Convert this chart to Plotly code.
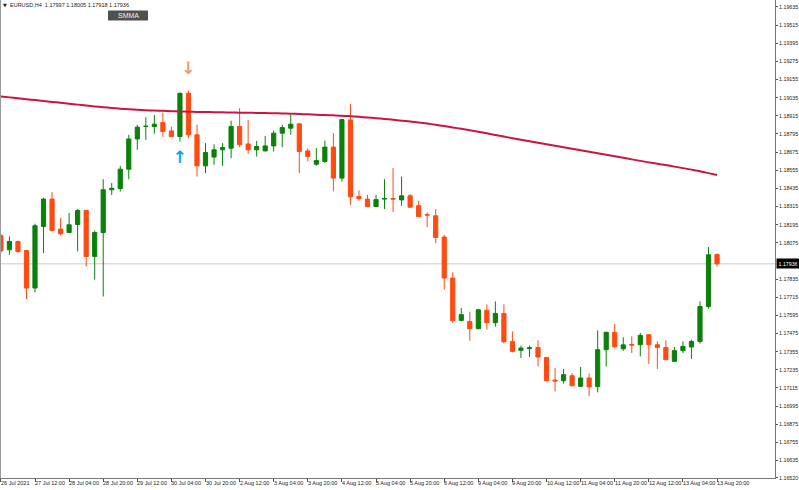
import plotly.graph_objects as go

# ---------------- data ----------------
bar_index = list(range(85))

opens = [1.18122, 1.18029, 1.18084, 1.18024, 1.17776, 1.18183, 1.18364, 1.18166, 1.18143, 1.18196,
         1.18289, 1.17985, 1.18143, 1.18426, 1.18434, 1.18562, 1.18762, 1.18844, 1.18844, 1.18870,
         1.18815, 1.18778, 1.19064, 1.18789, 1.18584, 1.18642, 1.18690, 1.18701, 1.18844, 1.18729,
         1.18690, 1.18683, 1.18716, 1.18800, 1.18833, 1.18862, 1.18683, 1.18595, 1.18613, 1.18708,
         1.18503, 1.18888, 1.18381, 1.18364, 1.18315, 1.18364, 1.18368, 1.18359, 1.18386, 1.18320,
         1.18261, 1.18254, 1.18113, 1.17842, 1.17562, 1.17555, 1.17507, 1.17629, 1.17547, 1.17608,
         1.17421, 1.17364, 1.17375, 1.17383, 1.17317, 1.17167, 1.17163, 1.17196, 1.17126, 1.17181,
         1.17124, 1.17368, 1.17483, 1.17374, 1.17403, 1.17401, 1.17467, 1.17401, 1.17383, 1.17291,
         1.17362, 1.17386, 1.17423, 1.17654, 1.17997]
highs = [1.18135, 1.18117, 1.18090, 1.18029, 1.18201, 1.18373, 1.18410, 1.18238, 1.18272, 1.18298,
         1.18293, 1.18157, 1.18496, 1.18470, 1.18584, 1.18789, 1.18855, 1.18906, 1.18921, 1.18936,
         1.18844, 1.19068, 1.19082, 1.18855, 1.18734, 1.18727, 1.18734, 1.18883, 1.18965, 1.18888,
         1.18749, 1.18782, 1.18817, 1.18855, 1.18921, 1.18866, 1.18701, 1.18701, 1.18751, 1.18800,
         1.18895, 1.18994, 1.18422, 1.18392, 1.18392, 1.18496, 1.18569, 1.18513, 1.18397, 1.18353,
         1.18276, 1.18298, 1.18128, 1.17879, 1.17644, 1.17619, 1.17639, 1.17668, 1.17687, 1.17668,
         1.17489, 1.17395, 1.17395, 1.17430, 1.17318, 1.17247, 1.17241, 1.17214, 1.17254, 1.17210,
         1.17496, 1.17487, 1.17539, 1.17450, 1.17456, 1.17479, 1.17470, 1.17423, 1.17430, 1.17386,
         1.17423, 1.17434, 1.17687, 1.18047, 1.18005]
lows = [1.18009, 1.17996, 1.18007, 1.17703, 1.17747, 1.18007, 1.18150, 1.18122, 1.18141, 1.18018,
        1.17919, 1.17831, 1.17720, 1.18392, 1.18414, 1.18496, 1.18690, 1.18756, 1.18796, 1.18774,
        1.18774, 1.18745, 1.18767, 1.18513, 1.18536, 1.18591, 1.18584, 1.18635, 1.18708, 1.18663,
        1.18646, 1.18679, 1.18679, 1.18708, 1.18789, 1.18536, 1.18613, 1.18584, 1.18604, 1.18416,
        1.18480, 1.18326, 1.18354, 1.18311, 1.18311, 1.18298, 1.18278, 1.18320, 1.18305, 1.18247,
        1.18179, 1.18073, 1.17765, 1.17547, 1.17555, 1.17428, 1.17504, 1.17500, 1.17520, 1.17410,
        1.17350, 1.17313, 1.17320, 1.17258, 1.17159, 1.17093, 1.17144, 1.17126, 1.17122, 1.17060,
        1.17086, 1.17258, 1.17377, 1.17360, 1.17346, 1.17324, 1.17274, 1.17241, 1.17298, 1.17287,
        1.17346, 1.17307, 1.17408, 1.17639, 1.17918]
closes = [1.18022, 1.18084, 1.18018, 1.17776, 1.18188, 1.18364, 1.18157, 1.18135, 1.18194, 1.18289,
          1.17985, 1.18143, 1.18426, 1.18435, 1.18562, 1.18762, 1.18840, 1.18846, 1.18860, 1.18811,
          1.18778, 1.19064, 1.18789, 1.18584, 1.18672, 1.18690, 1.18705, 1.18844, 1.18723, 1.18690,
          1.18712, 1.18716, 1.18800, 1.18837, 1.18860, 1.18679, 1.18646, 1.18619, 1.18708, 1.18503,
          1.18890, 1.18379, 1.18367, 1.18315, 1.18361, 1.18368, 1.18364, 1.18386, 1.18311, 1.18249,
          1.18259, 1.18110, 1.17842, 1.17560, 1.17600, 1.17507, 1.17632, 1.17547, 1.17608, 1.17421,
          1.17357, 1.17379, 1.17381, 1.17320, 1.17163, 1.17161, 1.17203, 1.17130, 1.17181, 1.17122,
          1.17368, 1.17483, 1.17388, 1.17400, 1.17399, 1.17463, 1.17401, 1.17383, 1.17302, 1.17362,
          1.17390, 1.17423, 1.17654, 1.17996, 1.17936]

smma = [1.19043, 1.19037, 1.19031, 1.19025, 1.19019, 1.19013, 1.19007, 1.19001, 1.18995, 1.18989,
        1.18983, 1.18977, 1.18972, 1.18967, 1.18962, 1.18958, 1.18955, 1.18952, 1.18950, 1.18948,
        1.18946, 1.18944, 1.18942, 1.18941, 1.18940, 1.18939, 1.18938, 1.18937, 1.18936, 1.18935,
        1.18934, 1.18933, 1.18932, 1.18931, 1.18929, 1.18927, 1.18925, 1.18922, 1.18920, 1.18918,
        1.18916, 1.18912, 1.18908, 1.18904, 1.18899, 1.18894, 1.18889, 1.18883, 1.18877, 1.18871,
        1.18864, 1.18856, 1.18847, 1.18838, 1.18829, 1.18819, 1.18809, 1.18799, 1.18788, 1.18778,
        1.18767, 1.18757, 1.18747, 1.18737, 1.18727, 1.18717, 1.18707, 1.18697, 1.18687, 1.18677,
        1.18667, 1.18657, 1.18647, 1.18637, 1.18627, 1.18617, 1.18607, 1.18598, 1.18589, 1.18579,
        1.18569, 1.18559, 1.18549, 1.18536, 1.18524]

signal_down_bar = [22]
signal_down_price = [1.19218]
signal_up_bar = [21]
signal_up_price = [1.18630]

x_tick_bars = [0, 4, 8, 12, 16, 20, 24, 28, 32, 36, 40, 44, 48, 52, 56, 60, 64, 68, 72, 76, 80, 84]
x_tick_labels = ["26 Jul 2021", "27 Jul 12:00", "28 Jul 04:00", "28 Jul 20:00", "29 Jul 12:00",
                 "30 Jul 04:00", "30 Jul 20:00", "2 Aug 12:00", "3 Aug 04:00", "3 Aug 20:00",
                 "4 Aug 12:00", "5 Aug 04:00", "5 Aug 20:00", "6 Aug 12:00", "9 Aug 04:00",
                 "9 Aug 20:00", "10 Aug 12:00", "11 Aug 04:00", "11 Aug 20:00", "12 Aug 12:00",
                 "13 Aug 04:00", "13 Aug 20:00"]

y_tick_labels = ["1.19635", "1.19515", "1.19395", "1.19275", "1.19155", "1.19035", "1.18915",
                 "1.18795", "1.18675", "1.18555", "1.18435", "1.18315", "1.18195", "1.18075",
                 "1.17835", "1.17715", "1.17595", "1.17475", "1.17355", "1.17235",
                 "1.17115", "1.16995", "1.16875", "1.16755", "1.16635", "1.16520"]
y_tick_vals = [float(v) for v in y_tick_labels]

title_text = "EURUSD,H4  1.17997 1.18005 1.17918 1.17936"
indicator_name = "SMMA"

# ---------------- figure ----------------
FONT = "Liberation Sans, Arial, sans-serif"
BULL = "#0b800b"
BEAR = "#ff4a12"

fig = go.Figure()

fig.add_trace(go.Candlestick(
    x=bar_index, open=opens, high=highs, low=lows, close=closes,
    increasing=dict(line=dict(color=BULL, width=1), fillcolor=BULL),
    decreasing=dict(line=dict(color=BEAR, width=1), fillcolor=BEAR),
    whiskerwidth=0, showlegend=False, hoverinfo="skip",
))

fig.add_trace(go.Scatter(
    x=bar_index, y=smma, mode="lines",
    line=dict(color="#cc1440", width=2, shape="spline", smoothing=0.6),
    showlegend=False, hoverinfo="skip",
))

fig.add_trace(go.Scatter(
    x=signal_down_bar, y=signal_down_price, mode="text", text=["<b>↓</b>"],
    textfont=dict(family="DejaVu Sans", size=17, color="#f09a64"),
    textposition="middle center", showlegend=False, hoverinfo="skip",
))
fig.add_trace(go.Scatter(
    x=signal_up_bar, y=signal_up_price, mode="text", text=["<b>↑</b>"],
    textfont=dict(family="DejaVu Sans", size=17, color="#14a6f0"),
    textposition="middle center", showlegend=False, hoverinfo="skip",
))

last_close = closes[-1]

shapes = [
    # current price line
    dict(type="line", xref="paper", x0=0, x1=1, yref="y", y0=last_close, y1=last_close,
         line=dict(color="#c8c8c8", width=1), layer="below"),
    # left frame
    dict(type="line", xref="paper", x0=0, x1=0, yref="paper", y0=0, y1=1,
         line=dict(color="#9a9a9a", width=2)),
    # indicator button
    dict(type="rect", xref="paper", yref="paper",
         x0=108 / 775, x1=148 / 775, y0=1 - 20.5 / 478, y1=1 - 10.5 / 478,
         fillcolor="#505050", line=dict(width=0)),
]

annotations = []
for b, lab in zip(x_tick_bars, x_tick_labels):
    annotations.append(dict(
        x=b, xref="x", y=0, yref="paper", yanchor="top", xanchor="left",
        text=lab, showarrow=False, xshift=-1, yshift=-1,
        font=dict(family=FONT, size=5.5, color="#222222"), borderpad=0,
    ))

annotations.append(dict(
    x=0, xref="paper", y=1, yref="paper", xanchor="left", yanchor="top",
    text="▼", showarrow=False, xshift=2, yshift=-1,
    font=dict(family="DejaVu Sans", size=5, color="#222222"), borderpad=0,
))
annotations.append(dict(
    x=0, xref="paper", y=1, yref="paper", xanchor="left", yanchor="top",
    text=title_text, showarrow=False, xshift=9, yshift=-1,
    font=dict(family=FONT, size=5.5, color="#222222"), borderpad=0,
))
annotations.append(dict(
    x=128 / 775, xref="paper", y=1 - 15.5 / 478, yref="paper",
    xanchor="center", yanchor="middle",
    text=indicator_name, showarrow=False,
    font=dict(family=FONT, size=7, color="#f0f0f0"), borderpad=0,
))
annotations.append(dict(
    x=1, xref="paper", y=last_close, yref="y", xanchor="left", yanchor="middle",
    text=f"{last_close:.5f}", showarrow=False, xshift=0.5,
    font=dict(family=FONT, size=5.3, color="#ffffff"),
    bgcolor="#000000", borderpad=1.5, width=19, align="left",
))

fig.update_layout(
    width=799, height=490,
    margin=dict(l=0, r=24, t=0, b=12, pad=0, autoexpand=False),
    paper_bgcolor="#ffffff", plot_bgcolor="#ffffff",
    boxgap=0.3,
    showlegend=False,
    shapes=shapes,
    annotations=annotations,
    xaxis=dict(
        range=[-0.106, 90.8], rangeslider=dict(visible=False),
        tickvals=x_tick_bars, ticktext=[""] * len(x_tick_bars),
        ticks="outside", ticklen=3, tickcolor="#555555",
        showgrid=False, zeroline=False, showline=True, linecolor="#777777", linewidth=1,
        fixedrange=True, automargin=False,
    ),
    yaxis=dict(
        side="right", range=[1.165195, 1.19681],
        tickvals=y_tick_vals, ticktext=y_tick_labels,
        ticks="outside", ticklen=2, tickcolor="#555555",
        tickfont=dict(family=FONT, size=5.3, color="#222222"),
        ticklabelstandoff=0,
        showgrid=False, zeroline=False, showline=True, linecolor="#777777", linewidth=1,
        fixedrange=True, automargin=False,
    ),
)

fig.write_html(
    "out.html",
    config=dict(displayModeBar=False, staticPlot=True),
    post_script="document.body.style.margin='0';document.body.style.overflow='hidden';",
)
